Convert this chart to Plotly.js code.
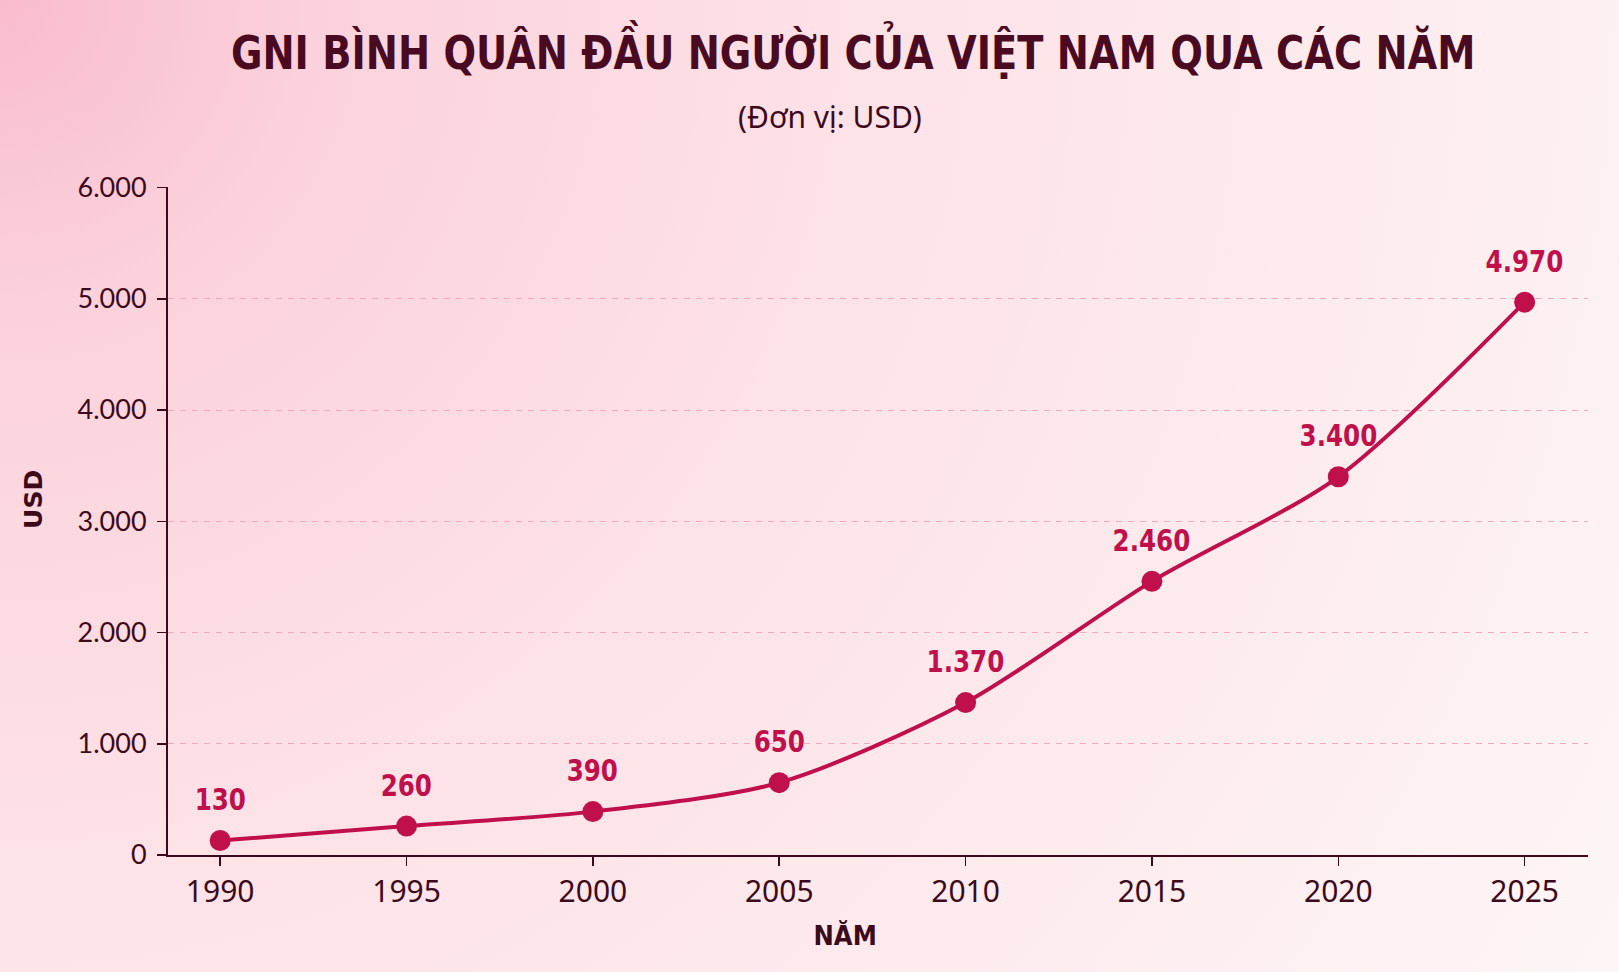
<!DOCTYPE html>
<html>
<head>
<meta charset="utf-8">
<script src="https://cdn.plot.ly/plotly-3.0.1.min.js"></script>
<style>
  html, body { margin: 0; padding: 0; }
  body {
    width: 1619px; height: 972px; overflow: hidden;
    background: radial-gradient(circle at 0 0, #f9bccd 0px, #fbd2dc 320px, #fde3e8 900px, #fdeef0 1500px, #fdf6f6 1900px);
  }
  #chart { width: 1619px; height: 972px; }
</style>
</head>
<body>
<div id="chart"></div>
<script>
// GNI per capita of Viet Nam, USD
const years = [1990, 1995, 2000, 2005, 2010, 2015, 2020, 2025];
const gni = [130, 260, 390, 650, 1370, 2460, 3400, 4970];
const gniLabels = ['130', '260', '390', '650', '1.370', '2.460', '3.400', '4.970'];
const yTickVals = [0, 1000, 2000, 3000, 4000, 5000, 6000];
const yTickText = ['0', '1.000', '2.000', '3.000', '4.000', '5.000', '6.000'];

const sansBold = '"DejaVu Sans", "Noto Sans", sans-serif';
const dark = '#3d0a1c';
const crimson = '#c0104b';

const trace = {
  x: years,
  y: gni,
  type: 'scatter',
  mode: 'lines+markers',
  line: { color: crimson, width: 4, shape: 'spline', smoothing: 0.8 },
  marker: { color: crimson, size: 21 },
  hoverinfo: 'x+y'
};

const valueNotes = years.map((yr, i) => ({
  x: yr, y: gni[i], xref: 'x', yref: 'y',
  text: '<b>' + gniLabels[i] + '</b>',
  showarrow: false, yshift: 41,
  font: { family: sansBold, size: 30, color: crimson }
}));

const layout = {
  width: 1619, height: 972,
  paper_bgcolor: 'rgba(0,0,0,0)',
  plot_bgcolor: 'rgba(0,0,0,0)',
  margin: { l: 168, r: 31, t: 187, b: 117 },
  showlegend: false,
  title: {
    text: '<b>GNI BÌNH QUÂN ĐẦU NGƯỜI CỦA VIỆT NAM QUA CÁC NĂM</b>',
    font: { family: sansBold, size: 46, color: '#4a0b22' },
    x: 0.527, xanchor: 'center', y: 0.946, yanchor: 'middle', yref: 'container'
  },
  xaxis: {
    range: [1988.6, 2026.7],
    tickvals: years,
    ticktext: years.map(String),
    ticks: 'outside', ticklen: 9, tickwidth: 1.5, tickcolor: dark,
    showline: true, linecolor: dark, linewidth: 2,
    showgrid: false, zeroline: false,
    tickfont: { family: '"Noto Sans", sans-serif', size: 30, color: dark }
  },
  yaxis: {
    range: [0, 6005],
    tickvals: yTickVals,
    ticktext: yTickText,
    ticks: 'outside', ticklen: 9, tickwidth: 1.5, tickcolor: dark,
    ticklabelstandoff: 5,
    showline: true, linecolor: dark, linewidth: 2,
    showgrid: true, gridcolor: '#f4a8be', griddash: '6px,6px', gridwidth: 1,
    zeroline: false,
    tickfont: { family: 'Lato, "Open Sans", sans-serif', size: 27, color: dark }
  },
  shapes: [
    // short stub of the baseline to the left of the value axis
    { type: 'line', xref: 'paper', yref: 'paper', x0: -0.007, x1: 0, y0: 0, y1: 0,
      line: { color: dark, width: 2 } }
  ],
  annotations: [
    {
      text: '(Đơn vị: USD)', xref: 'paper', yref: 'paper',
      x: 0.466, y: 1.106, showarrow: false, xanchor: 'center', yanchor: 'middle',
      font: { family: '"Noto Sans", "DejaVu Sans", sans-serif', size: 30, color: dark }
    },
    {
      text: '<b>USD</b>', xref: 'paper', yref: 'paper', textangle: -90,
      x: -0.0944, y: 0.533, showarrow: false, xanchor: 'center', yanchor: 'middle',
      font: { family: sansBold, size: 25, color: dark }
    },
    {
      text: '<b>NĂM</b>', xref: 'paper', yref: 'paper',
      x: 0.477, y: -0.121, showarrow: false, xanchor: 'center', yanchor: 'middle',
      font: { family: sansBold, size: 27, color: dark }
    }
  ].concat(valueNotes)
};

// Squeeze a bold text run horizontally about its own centre so it reads like a condensed face
function condense(el, factor) {
  const b = el.getBBox();
  const cx = b.x + b.width / 2;
  const prev = el.getAttribute('transform') || '';
  el.setAttribute('transform',
    (prev + ' translate(' + cx + ',0) scale(' + factor + ',1) translate(' + (-cx) + ',0)').trim());
}

Plotly.newPlot('chart', [trace], layout, { displayModeBar: false, staticPlot: true }).then(gd => {
  const title = gd.querySelector('.gtitle');
  if (title) condense(title, 0.835);
  gd.querySelectorAll('.annotation-text').forEach(t => {
    const txt = t.textContent;
    if (gniLabels.indexOf(txt) >= 0) condense(t, 0.82);
    if (txt === 'NĂM') condense(t, 0.9);
  });
});
</script>
</body>
</html>
